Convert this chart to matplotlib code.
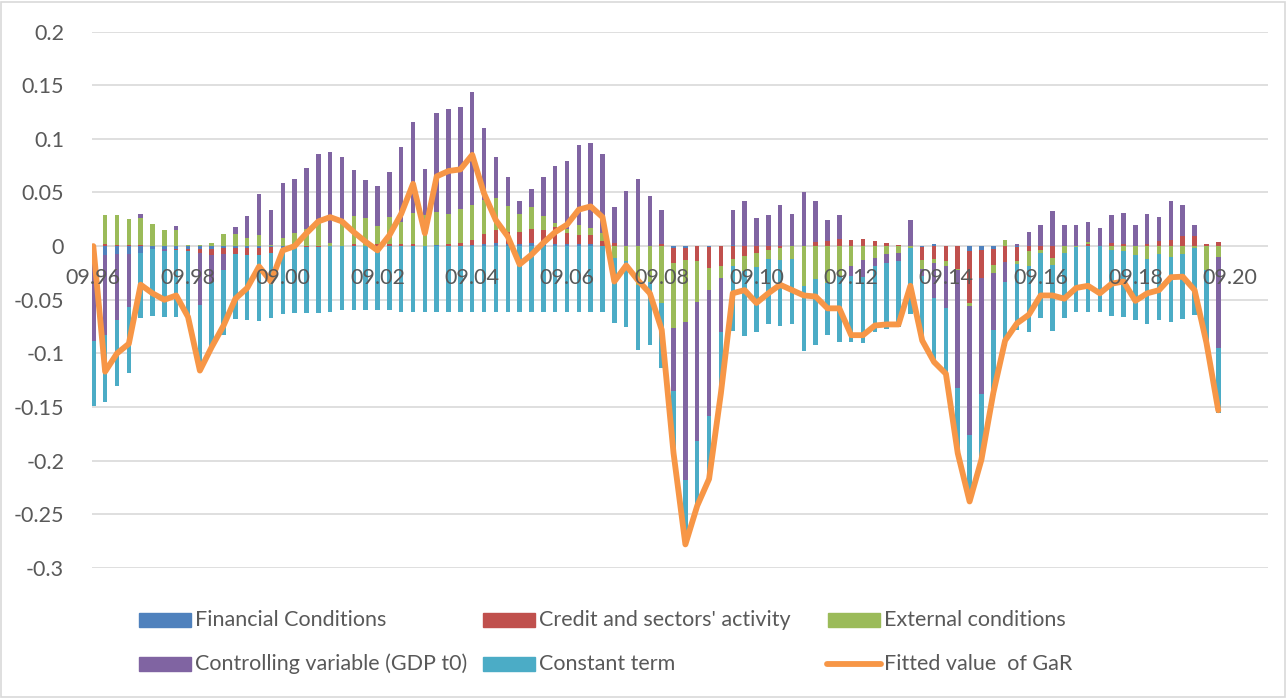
import numpy as np
import matplotlib.pyplot as plt
from matplotlib.patches import Rectangle
from matplotlib.lines import Line2D

plt.rcParams['font.family'] = ['Lato', 'DejaVu Sans']

# quarterly contributions to GaR, 09.96 .. 06.20
financial = [0, -0.008, -0.007, -0.007, -0.006, -0.003, -0.003, -0.003, -0.003, -0.003,
             -0.003, -0.002, -0.002, -0.002, -0.002, -0.001, -0.002, 0, 0, 0,
             0, 0, 0, 0, 0, 0, 0, 0, 0, 0.001,
             0, 0, 0.001, 0.002, 0.003, 0.002, 0.002, 0.003, 0.002, 0.002,
             0.002, 0.002, 0.002, 0, 0, 0, 0, 0, 0, -0.002,
             -0.002, 0, -0.001, 0, 0.001, 0, 0, 0, 0, 0,
             0, 0, 0, 0, 0, 0, 0, 0, 0, 0,
             -0.001, 0.002, 0, 0, -0.005, -0.004, -0.003, 0, -0.001, 0,
             0, 0, 0, 0, 0, 0, 0, 0, 0, 0,
             0, 0, 0, 0, 0, 0]
credit = [0, 0.002, 0.001, 0.001, 0.001, 0, 0, -0.001, -0.002, -0.003,
          -0.005, -0.005, -0.005, -0.006, -0.006, -0.005, 0, 0, -0.001, -0.001,
          0, 0, 0.002, 0, 0.002, 0.002, 0.002, 0.002, 0, 0,
          0.002, 0.003, 0.005, 0.009, 0.012, 0.011, 0.011, 0.013, 0.013, 0.0155,
          0.010, 0.008, 0.008, 0.005, 0.003, 0, 0, 0, 0.002, -0.014,
          -0.011, -0.014, -0.019, -0.019, -0.012, -0.009, -0.006, -0.004, -0.002, 0,
          0, 0.004, 0.005, 0.007, 0.006, 0.007, 0.005, 0.003, 0.001, 0,
          -0.012, -0.012, -0.014, -0.021, -0.048, -0.026, -0.015, -0.015, -0.013, -0.005,
          -0.004, -0.011, 0, 0, 0.002, 0, 0.003, 0.002, 0, 0.0015,
          0.005, 0.006, 0.009, 0.009, 0.002, 0.004]
external = [0, 0.027, 0.028, 0.024, 0.025, 0.021, 0.015, 0.015, 0.001, 0.001,
            0.003, 0.011, 0.011, 0.008, 0.010, 0.001, 0.008, 0.0125, 0.0156, 0.024,
            0.003, 0.025, 0.026, 0.026, 0.017, 0.025, 0.020, 0.029, 0.029, 0.031,
            0.028, 0.032, 0.032, 0.032, 0.030, 0.024, 0.017, 0.020, 0.013, 0.004,
            0.004, 0.010, 0.007, 0.007, -0.011, -0.014, -0.036, -0.033, -0.053, -0.060,
            -0.058, -0.038, -0.021, -0.011, -0.007, -0.014, -0.0135, -0.008, -0.011, -0.012,
            -0.037, -0.031, -0.034, -0.028, -0.019, -0.013, -0.011, -0.007, -0.006, -0.002,
            -0.008, -0.004, -0.005, -0.001, -0.003, 0, -0.0075, 0.006, -0.003, -0.014,
            -0.002, -0.007, -0.006, -0.001, 0.002, 0, -0.004, -0.005, -0.008, -0.012,
            -0.0075, -0.010, -0.007, -0.002, -0.022, -0.010]
controlling = [-0.088, -0.075, -0.062, -0.050, 0.004, 0, -0.002, 0.004, 0, -0.049,
               -0.025, -0.015, 0.007, 0.020, 0.039, 0.033, 0.051, 0.050, 0.0576, 0.0616,
               0.085, 0.058, 0.043, 0.036, 0.037, 0.042, 0.070, 0.085, 0.043, 0.092,
               0.098, 0.095, 0.106, 0.067, 0.038, 0.027, 0.012, 0.017, 0.036, 0.053,
               0.063, 0.074, 0.079, 0.074, 0.033, 0.051, 0.063, 0.047, 0.032, -0.059,
               -0.147, -0.130, -0.117, -0.050, 0.033, 0.042, 0.026, 0.029, 0.038, 0.030,
               0.050, 0.038, 0.019, 0.022, -0.009, -0.016, -0.008, -0.009, -0.008, 0.024,
               -0.007, -0.032, -0.039, -0.110, -0.120, -0.108, -0.053, -0.018, 0.0015, 0.013,
               0.0195, 0.033, 0.0195, 0.020, 0.018, 0.017, 0.026, 0.029, 0.020, 0.028,
               0.022, 0.036, 0.0295, 0.011, 0, -0.085]
constant = [-0.061, -0.062, -0.061, -0.061, -0.061, -0.062, -0.061, -0.062, -0.062, -0.061,
            -0.062, -0.061, -0.061, -0.061, -0.062, -0.061, -0.061, -0.0625, -0.061, -0.061,
            -0.061, -0.060, -0.060, -0.060, -0.060, -0.060, -0.061, -0.061, -0.061, -0.061,
            -0.061, -0.061, -0.061, -0.061, -0.061, -0.061, -0.061, -0.061, -0.061, -0.061,
            -0.061, -0.061, -0.061, -0.061, -0.061, -0.061, -0.061, -0.059, -0.061, -0.058,
            -0.060, -0.060, -0.059, -0.060, -0.060, -0.061, -0.061, -0.061, -0.061, -0.061,
            -0.061, -0.061, -0.049, -0.061, -0.061, -0.061, -0.061, -0.061, -0.061, -0.061,
            -0.061, -0.060, -0.061, -0.062, -0.062, -0.061, -0.060, -0.060, -0.061, -0.061,
            -0.061, -0.061, -0.061, -0.060, -0.061, -0.061, -0.061, -0.061, -0.061, -0.061,
            -0.061, -0.061, -0.061, -0.062, -0.068, -0.061]
fitted = [0.0, -0.117, -0.100, -0.091, -0.036, -0.044, -0.050, -0.046, -0.066, -0.116,
          -0.094, -0.074, -0.049, -0.039, -0.019, -0.033, -0.004, 0.0, 0.012, 0.023,
          0.027, 0.023, 0.013, 0.004, -0.004, 0.010, 0.030, 0.058, 0.012, 0.065,
          0.070, 0.0715, 0.085, 0.049, 0.024, 0.009, -0.017, -0.008, 0.003, 0.013,
          0.020, 0.034, 0.037, 0.027, -0.033, -0.018, -0.032, -0.044, -0.078, -0.193,
          -0.278, -0.242, -0.217, -0.137, -0.044, -0.041, -0.053, -0.044, -0.036, -0.041,
          -0.046, -0.047, -0.058, -0.058, -0.083, -0.083, -0.074, -0.073, -0.073, -0.037,
          -0.088, -0.108, -0.119, -0.193, -0.238, -0.199, -0.137, -0.088, -0.072, -0.064,
          -0.046, -0.046, -0.049, -0.039, -0.037, -0.044, -0.035, -0.033, -0.051, -0.044,
          -0.041, -0.029, -0.0285, -0.041, -0.090, -0.153]

tick_labels = ["09.96", "09.98", "09.00", "09.02", "09.04", "09.06", "09.08",
               "09.10", "09.12", "09.14", "09.16", "09.18", "09.20"]

series = [("Financial Conditions", financial, "#4F81BD"),
          ("Credit and sectors' activity", credit, "#C0504D"),
          ("External conditions", external, "#9BBB59"),
          ("Controlling variable (GDP t0)", controlling, "#8064A2"),
          ("Constant term", constant, "#4BACC6")]
line_color = "#F79646"
text_color = "#595959"
grid_color = "#D9D9D9"

W, H = 1287, 698
fig = plt.figure(figsize=(W / 100, H / 100), dpi=100)
ax = fig.add_axes([92 / W, 1 - 568 / H, (1268 - 92) / W, (568 - 31.5) / H])

x = np.arange(len(fitted))
pos_base = np.zeros(len(x))
neg_base = np.zeros(len(x))
for name, vals, col in series:
    v = np.array(vals, dtype=float)
    bottom = np.where(v >= 0, pos_base, neg_base)
    ax.bar(x, v, bottom=bottom, width=0.38, color=col, zorder=2)
    pos_base += np.where(v >= 0, v, 0)
    neg_base += np.where(v < 0, v, 0)

ax.plot(x, fitted, color=line_color, lw=4.2, solid_joinstyle='round',
        solid_capstyle='round', zorder=3)

ax.set_ylim(-0.3, 0.2)
ax.set_xlim(-0.11, 99.2)
yt = np.arange(-0.3, 0.201, 0.05)
ax.set_yticks(yt)
ax.set_yticklabels(["0" if abs(t) < 1e-9 else f"{t:.2f}".rstrip('0') for t in yt])
# gridlines drawn below the bars; axis (tick labels) stays on top
for t in yt:
    ax.axhline(t, color=grid_color, lw=1.2, zorder=0)

ax.set_xticks(np.arange(0, 97, 8))
ax.set_xticklabels(tick_labels)
for s in ["top", "right", "left"]:
    ax.spines[s].set_visible(False)
ax.spines["bottom"].set_position(("data", 0))
ax.spines["bottom"].set_visible(False)
ax.xaxis.set_zorder(5)
ax.tick_params(axis="x", length=0, pad=16, labelsize=15.5, labelcolor=text_color)
ax.tick_params(axis="y", length=0, pad=20, labelsize=15.5, labelcolor=text_color)

# legend, drawn by hand to keep Excel's row order and spacing
cols = [139, 483, 828]
rows = [620, 664]
entries = [(s[0], s[2]) for s in series]
for k, (name, col) in enumerate(entries):
    cx = cols[k % 3]
    cy = rows[k // 3]
    fig.patches.append(Rectangle((cx / W, 1 - (cy + 7) / H), 52 / W, 14 / H,
                                 transform=fig.transFigure, color=col))
    fig.text((cx + 56) / W, 1 - cy / H, name, fontsize=15.5, color=text_color,
             va="center", ha="left")
cx, cy = cols[2], rows[1]
fig.lines.append(Line2D([(cx - 1) / W, (cx + 53) / W], [1 - cy / H, 1 - cy / H],
                        transform=fig.transFigure, color=line_color, lw=4.2,
                        solid_capstyle='round'))
fig.text((cx + 56) / W, 1 - cy / H, "Fitted value  of GaR", fontsize=15.5,
         color=text_color, va="center", ha="left")

fig.patches.append(Rectangle((1 / W, 1 / H), (W - 3) / W, (H - 3) / H,
                             transform=fig.transFigure, fill=False,
                             edgecolor=grid_color, lw=1.2))

fig.savefig("out.png", dpi=100)
